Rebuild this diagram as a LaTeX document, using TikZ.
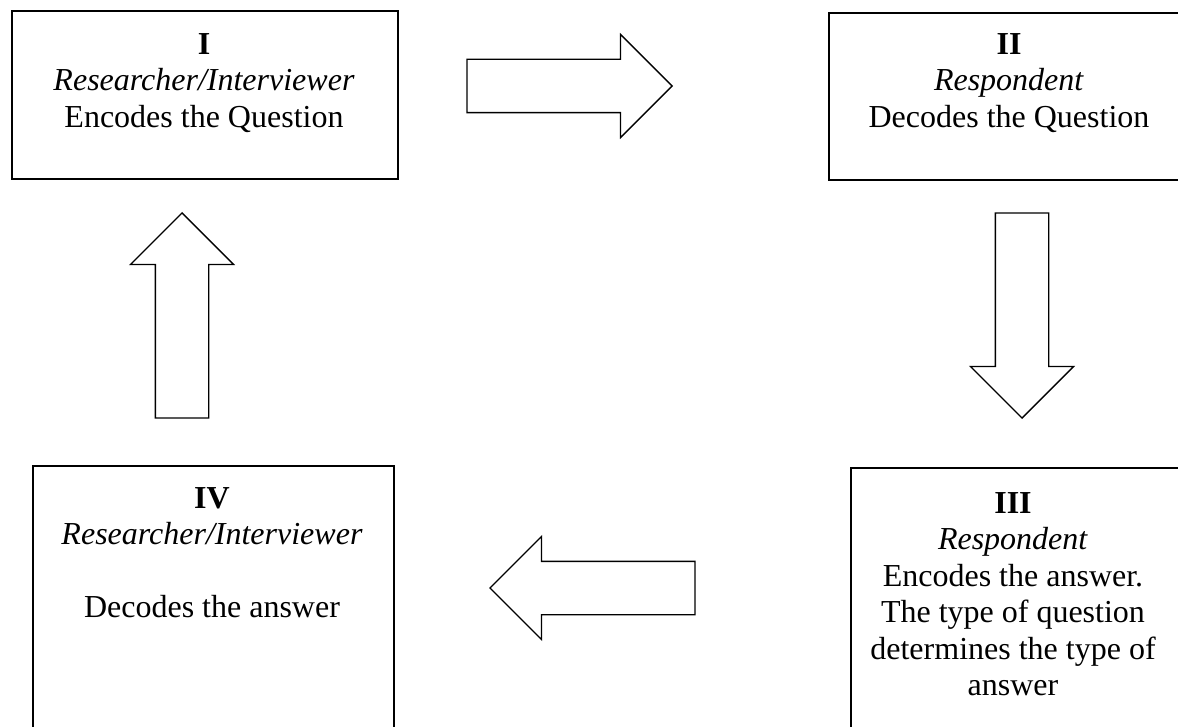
\documentclass[tikz,border=0pt]{standalone}
\usepackage{fontspec}
\setmainfont{Liberation Serif}
\usepackage{tikz}
\usetikzlibrary{shapes.arrows}

\begin{document}
\begin{tikzpicture}[x=1pt, y=-1pt,
    stage/.style={rectangle, draw, line width=1.6pt, anchor=north west},
    stagetext/.style={anchor=north, align=center, inner sep=0pt, font=\fontsize{32}{36.5}\selectfont},
    bigarrow/.style={single arrow, draw, line width=1.3pt, inner sep=26pt, anchor=tip,
        single arrow head extend=25pt, single arrow tip angle=90,
        minimum height=205pt}]
                  \useasboundingbox (0,0) rectangle (1178,727);
                  \clip (0,0) rectangle (1178,727);

                  % Nodes
                  \node[stage, minimum width=386pt, minimum height=168pt] (stageI) at (11,10) {};
                  \node[stage, minimum width=362pt, minimum height=167pt] (stageII) at (828,12) {};
                  \node[stage, minimum width=340pt, minimum height=280pt] (stageIII) at (850,467) {};
                  \node[stage, minimum width=361pt, minimum height=280pt] (stageIV) at (32,465) {};

                  \node[stagetext] (textI) at (204,33) {\textbf{I}\\\textit{Researcher/Interviewer}\\Encodes the Question};
                  \node[stagetext] (textII) at (1009,33) {\textbf{II}\\\textit{Respondent}\\Decodes the Question};
                  \node[stagetext] (textIII) at (1013,492) {\textbf{III}\\\textit{Respondent}\\Encodes the answer.\\The type of question\\determines the type of\\answer};
                  \node[stagetext] (textIV) at (212,487) {\textbf{IV}\\\textit{Researcher/Interviewer}\\[36.5pt]Decodes the answer};

                  % Arrows (placed by their tips)
                  \foreach \n/\x/\y/\r in {toII/673/86/0, toIII/1022/419/270, toIV/489/588/180, toI/182/212/90}
                  \node[bigarrow, shape border rotate=\r] (\n) at (\x,\y) {};
              \end{tikzpicture}
\end{document}
